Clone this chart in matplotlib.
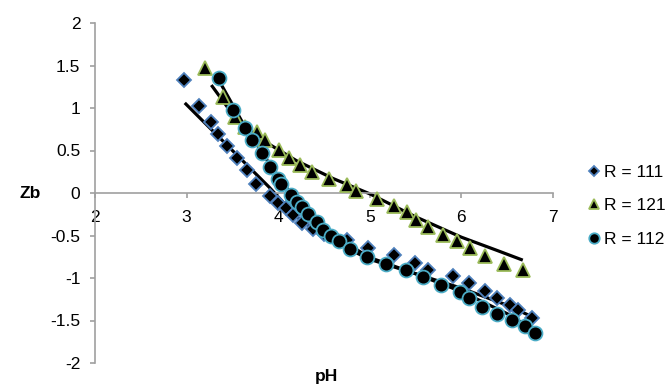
import matplotlib.pyplot as plt

# measured points
ph_111 = [2.97, 3.14, 3.27, 3.34, 3.44, 3.55, 3.66, 3.76, 3.91, 4.00, 4.09, 4.16, 4.26,
          4.38, 4.50, 4.62, 4.75, 4.98, 5.26, 5.49, 5.64, 5.91, 6.08, 6.26, 6.39, 6.53, 6.62, 6.77]
zb_111 = [1.33, 1.02, 0.84, 0.69, 0.55, 0.41, 0.27, 0.11, -0.04, -0.12, -0.18, -0.26, -0.35,
          -0.42, -0.48, -0.53, -0.55, -0.65, -0.73, -0.82, -0.90, -0.98, -1.06, -1.15, -1.24, -1.32, -1.38, -1.47]

ph_121 = [3.20, 3.40, 3.53, 3.64, 3.77, 3.86, 4.01, 4.12, 4.24, 4.37, 4.56, 4.75, 4.85,
          5.08, 5.26, 5.41, 5.50, 5.64, 5.80, 5.95, 6.09, 6.26, 6.47, 6.67]
zb_121 = [1.47, 1.13, 0.90, 0.78, 0.72, 0.62, 0.51, 0.41, 0.33, 0.25, 0.17, 0.09, 0.02,
          -0.07, -0.15, -0.22, -0.32, -0.40, -0.49, -0.57, -0.65, -0.74, -0.83, -0.91]

ph_112 = [3.35, 3.51, 3.64, 3.71, 3.82, 3.91, 4.00, 4.03, 4.14, 4.20, 4.26, 4.33, 4.42, 4.49,
          4.58, 4.66, 4.78, 4.97, 5.18, 5.40, 5.58, 5.78, 5.98, 6.08, 6.23, 6.39, 6.55, 6.69, 6.80]
zb_112 = [1.35, 0.98, 0.76, 0.62, 0.47, 0.31, 0.17, 0.11, -0.02, -0.10, -0.17, -0.25, -0.34, -0.43,
          -0.51, -0.57, -0.66, -0.75, -0.83, -0.91, -0.99, -1.08, -1.16, -1.24, -1.34, -1.42, -1.49, -1.57, -1.65]

# fitted curves
fit_ph_111 = [2.98, 3.5, 3.9, 4.2, 4.5, 5.0, 5.5, 6.0, 6.5, 6.8]
fit_zb_111 = [1.06, 0.50, 0.07, -0.28, -0.52, -0.78, -0.95, -1.12, -1.32, -1.47]
fit_ph_112 = [3.35, 3.6, 3.9, 4.1, 4.3, 4.6, 5.0, 5.5, 6.0, 6.5, 6.8]
fit_zb_112 = [1.33, 0.85, 0.35, 0.05, -0.22, -0.50, -0.76, -0.95, -1.16, -1.42, -1.62]
fit_ph_121 = [3.27, 3.5, 3.8, 4.2, 4.6, 5.0, 5.5, 6.0, 6.4, 6.67]
fit_zb_121 = [1.27, 0.93, 0.64, 0.38, 0.17, -0.01, -0.28, -0.52, -0.68, -0.79]

plt.rcParams['font.family'] = ['Liberation Sans', 'DejaVu Sans']
FS = 12.5

fig = plt.figure(figsize=(6.72, 3.88), dpi=100)
ax = fig.add_axes([95 / 672, 25 / 388, 458 / 672, 340 / 388])

for fx, fy in [(fit_ph_111, fit_zb_111), (fit_ph_112, fit_zb_112), (fit_ph_121, fit_zb_121)]:
    ax.plot(fx, fy, color='black', lw=2.3, zorder=2, solid_capstyle='butt')

ax.plot(ph_111, zb_111, ls='none', marker='D', ms=7, mfc='black', mec='#4f81bd', mew=1.3,
        label='R = 111', zorder=3)
ax.plot(ph_121, zb_121, ls='none', marker='^', ms=10, mfc='black', mec='#9bbb59', mew=1.3,
        label='R = 121', zorder=3)
ax.plot(ph_112, zb_112, ls='none', marker='o', ms=10, mfc='black', mec='#4bacc6', mew=1.3,
        label='R = 112', zorder=4)

ax.set_xlim(2, 7)
ax.set_ylim(-2, 2)
ax.set_xticks([2, 3, 4, 5, 6, 7])
ax.set_yticks([-2, -1.5, -1, -0.5, 0, 0.5, 1, 1.5, 2])
ax.set_yticklabels(['-2', '-1.5', '-1', '-0.5', '0', '0.5', '1', '1.5', '2'])

ax.spines['top'].set_visible(False)
ax.spines['right'].set_visible(False)
ax.spines['bottom'].set_position(('data', 0))
for s in ['left', 'bottom']:
    ax.spines[s].set_color('#a0a0a0')
    ax.spines[s].set_linewidth(1.2)
ax.tick_params(axis='both', colors='#a0a0a0', labelcolor='black', labelsize=FS,
               length=3.6, width=1.2, direction='out')
ax.tick_params(axis='y', pad=7)
ax.tick_params(axis='x', pad=8.5)

fig.text(326 / 672, 1 - 377 / 388, 'pH', ha='center', va='center', fontsize=FS, fontweight='bold')
fig.text(30 / 672, 1 - 194 / 388, 'Zb', ha='center', va='center', fontsize=FS, fontweight='bold')

ax.legend(loc='center left', bbox_to_anchor=(1.078, 0.462), frameon=False,
          fontsize=FS, markerscale=0.75, handlelength=0.6, handletextpad=0.3, labelspacing=1.05,
          borderaxespad=0, borderpad=0)

fig.savefig('out.png', dpi=100)
